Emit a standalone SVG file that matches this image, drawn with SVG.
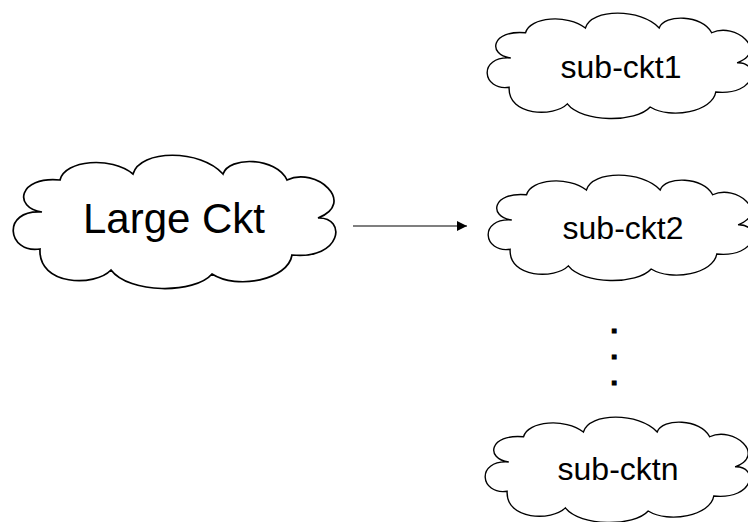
<svg xmlns="http://www.w3.org/2000/svg" xmlns:xlink="http://www.w3.org/1999/xlink" width="748" height="522" viewBox="0 0 748 522">
  <style>
    .cloud { fill: #ffffff; stroke: #000000; stroke-width: 1.7; stroke-linejoin: miter; }
    .label { font-family: "Liberation Sans", Arial, sans-serif; fill: #000000; text-anchor: middle; }
    .big { font-size: 42px; }
    .small { font-size: 32px; }
    .dots { font-family: "DejaVu Sans", sans-serif; font-weight: bold; font-size: 22px; fill: #000000; stroke: #000000; stroke-width: 1; stroke-linejoin: miter; }
    .edge { stroke: #000000; stroke-width: 1.2; fill: none; }
  </style>
  <defs>
    <!-- cloud outline, 322 x 132 box, ten lobes -->
    <path id="cloudShape" d="M47,25
      C52,5 98,1 120,19
      C127,-6 188,-6 210,19
      C216,1 263,2 274,25
      C303,11 344,48 305,63
      C334,62 329,105 279,100
      C275,125 224,135 199,119
      C182,139 116,139 98,115
      C82,132 25,131 27,94
      C-6,99 -12,54 29,57
      C0,53 5,21 47,25 Z"/>
    <marker id="arrowHead" viewBox="0 0 10 10" refX="10" refY="5" markerWidth="10" markerHeight="10" markerUnits="userSpaceOnUse" orient="auto">
      <path d="M0,0 L10,5 L0,10 Z" fill="#000000"/>
    </marker>
  </defs>

  <rect width="748" height="522" fill="#ffffff"/>

  <g id="large-ckt">
    <use xlink:href="#cloudShape" href="#cloudShape" class="cloud" transform="translate(13,155)"/>
    <text class="label big" x="174" y="233">Large Ckt</text>
  </g>

  <g id="sub-ckt1">
    <use xlink:href="#cloudShape" href="#cloudShape" class="cloud" vector-effect="non-scaling-stroke" transform="translate(487,13) scale(0.82,0.79)"/>
    <text class="label small" x="621" y="78">sub-ckt1</text>
  </g>

  <g id="sub-ckt2">
    <use xlink:href="#cloudShape" href="#cloudShape" class="cloud" vector-effect="non-scaling-stroke" transform="translate(488,175) scale(0.82,0.79)"/>
    <text class="label small" x="623" y="239">sub-ckt2</text>
  </g>

  <g id="sub-cktn">
    <use xlink:href="#cloudShape" href="#cloudShape" class="cloud" vector-effect="non-scaling-stroke" transform="translate(485,417) scale(0.82,0.79)"/>
    <text class="label small" x="618" y="480">sub-cktn</text>
  </g>

  <g id="ellipsis">
    <text class="dots" x="610" y="333">.</text>
    <text class="dots" x="610" y="359">.</text>
    <text class="dots" x="610" y="385">.</text>
  </g>

  <g id="connectors">
    <line class="edge" x1="353" y1="226" x2="467" y2="226" marker-end="url(#arrowHead)"/>
  </g>
</svg>
